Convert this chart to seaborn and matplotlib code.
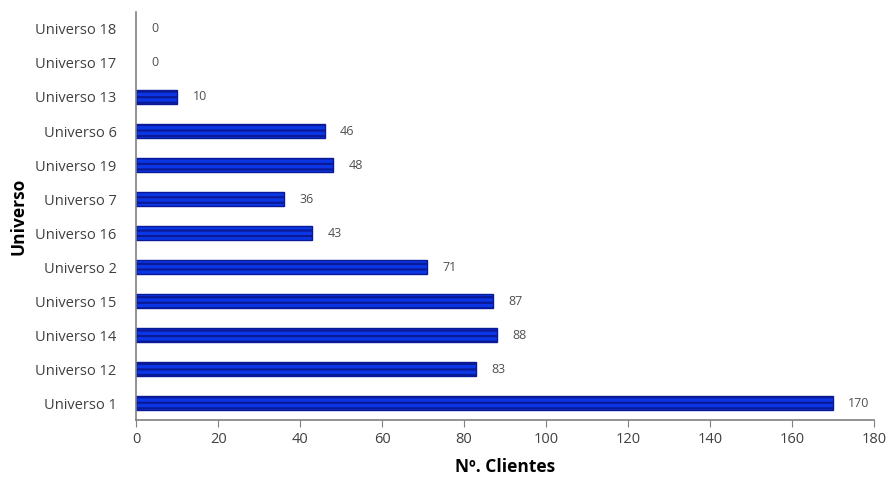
import matplotlib
matplotlib.use('Agg')
import matplotlib.pyplot as plt
import seaborn as sns

# data (top to bottom)
universos = ['Universo 18', 'Universo 17', 'Universo 13', 'Universo 6', 'Universo 19', 'Universo 7',
             'Universo 16', 'Universo 2', 'Universo 15', 'Universo 14', 'Universo 12', 'Universo 1']
clientes = [0, 0, 10, 46, 48, 36, 43, 71, 87, 88, 83, 170]
xticks = list(range(0, 181, 20))

sns.set_style('white')
plt.rcParams['font.family'] = ['Open Sans', 'DejaVu Sans']
plt.rcParams['hatch.color'] = '#0a1a96'
plt.rcParams['hatch.linewidth'] = 1.6

fig, ax = plt.subplots(figsize=(8.9, 4.79), dpi=100)
fig.subplots_adjust(left=0.153, right=0.982, top=0.975, bottom=0.123)

sns.barplot(x=clientes, y=universos, orient='h', color='#0a36e6', width=0.42,
            saturation=1, ax=ax)
for p in ax.patches:
    p.set_hatch('---')
    p.set_edgecolor('#0a1a96')
    # empty bars should not leave a line on the axis
    p.set_linewidth(1.0 if p.get_width() > 0 else 0)

ax.bar_label(ax.containers[0], padding=11, fontsize=9, color='#505050')

ax.set_xlim(0, 180)
ax.set_ylim(11.5, -0.5)
ax.set_xticks(xticks)
ax.tick_params(axis='x', direction='out', length=5, color='#808080', labelsize=10.5,
               labelcolor='#404040', bottom=True)
ax.tick_params(axis='y', length=0, labelsize=10.5, labelcolor='#404040', pad=14)
for s in ['top', 'right']:
    ax.spines[s].set_visible(False)
for s in ['left', 'bottom']:
    ax.spines[s].set_color('#808080')
    ax.spines[s].set_linewidth(1.2)

ax.set_xlabel('Nº. Clientes', fontsize=12.5, fontweight='bold', color='black', labelpad=8)
ax.set_ylabel('Universo', fontsize=12.5, fontweight='bold', color='black', labelpad=6)

fig.savefig('out.png', dpi=100)
